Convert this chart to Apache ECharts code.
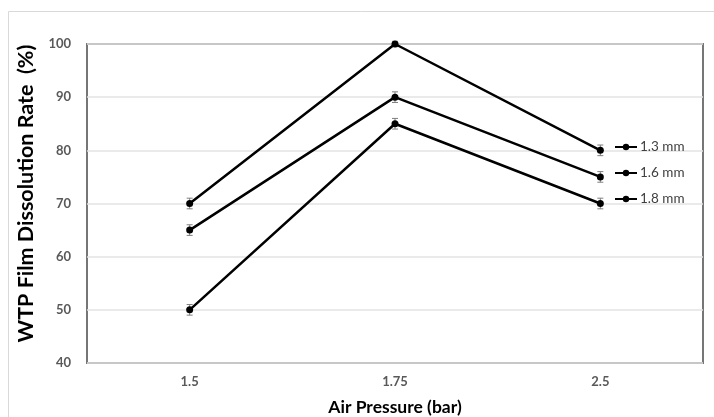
<!DOCTYPE html>
<html>
<head>
<meta charset="utf-8">
<script src="https://cdn.jsdelivr.net/npm/echarts@6/dist/echarts.min.js"></script>
<style>html,body{margin:0;padding:0;background:#fff;}#c{width:714px;height:417px;}</style>
</head>
<body>
<div id="c"></div>
<script>
var categories = ['1.5', '1.75', '2.5'];
var seriesNames = ['1.3 mm', '1.6 mm', '1.8 mm'];
var s13 = [70, 100, 80];
var s16 = [65, 90, 75];
var s18 = [50, 85, 70];
var err13 = [1, 0.5, 1];
var err16 = [1, 1, 1];
var err18 = [1, 1, 1];
var yTicks = [40, 50, 60, 70, 80, 90, 100];

var values = [s13, s16, s18];
var errs = [err13, err16, err18];
var font = 'Lato, "Open Sans", sans-serif';

var chart = echarts.init(document.getElementById('c'));
var series = [];
values.forEach(function (vals, k) {
  var errData = vals.map(function (v, i) { return [i, v - errs[k][i], v + errs[k][i]]; });
  series.push({
    type: 'custom',
    name: seriesNames[k] + ' err',
    z: 1,
    silent: true,
    data: errData,
    renderItem: function (params, api) {
      var x = api.value(0);
      var lo = api.coord([x, api.value(1)]);
      var hi = api.coord([x, api.value(2)]);
      var w = 3;
      var st = { stroke: '#7f7f7f', lineWidth: 1 };
      return { type: 'group', children: [
        { type: 'line', shape: { x1: lo[0], y1: lo[1], x2: hi[0], y2: hi[1] }, style: st },
        { type: 'line', shape: { x1: lo[0] - w, y1: lo[1], x2: lo[0] + w, y2: lo[1] }, style: st },
        { type: 'line', shape: { x1: hi[0] - w, y1: hi[1], x2: hi[0] + w, y2: hi[1] }, style: st }
      ]};
    }
  });
  series.push({
    type: 'line',
    name: seriesNames[k],
    data: vals,
    z: 3,
    symbol: 'circle',
    symbolSize: 7,
    lineStyle: { color: '#000', width: 2.5 },
    itemStyle: { color: '#000' }
  });
});

chart.setOption({
  animation: false,
  graphic: [{
    type: 'polyline',
    shape: { points: [[8.5, 430], [8.5, 11.5], [714, 11.5]] },
    style: { stroke: '#d9d9d9', lineWidth: 1, fill: null }
  }],
  grid: { left: 87, top: 44, right: 11, bottom: 54, show: true, borderColor: '#767676', borderWidth: 2,
    containLabel: false, outerBoundsMode: 'none' },
  legend: {
    data: seriesNames,
    orient: 'vertical',
    left: 609,
    top: 135,
    itemGap: 12,
    itemWidth: 22,
    itemHeight: 8,
    lineStyle: { width: 2 },
    textStyle: { fontFamily: font, fontSize: 13.5, lineHeight: 14, color: '#404040', padding: [0, 0, 0, -2] }
  },
  xAxis: {
    type: 'category',
    data: categories,
    boundaryGap: true,
    axisLine: { show: false },
    axisTick: { show: false },
    axisLabel: { fontFamily: font, fontSize: 13, fontWeight: 'bold', color: '#595959', margin: 12 },
    name: 'Air Pressure (bar)',
    nameLocation: 'middle',
    nameGap: 35,
    nameTextStyle: { fontFamily: font, fontSize: 17.5, fontWeight: 'bold', color: '#000' }
  },
  yAxis: {
    type: 'value',
    min: 40,
    max: 100,
    interval: 10,
    axisLine: { show: false },
    axisTick: { show: false },
    splitLine: { lineStyle: { color: '#e3e3e3', width: 1.5 } },
    axisLabel: { fontFamily: font, fontSize: 13, fontWeight: 'bold', color: '#595959', margin: 16,
      formatter: function (v) { return yTicks.indexOf(v) >= 0 ? String(v) : ''; } },
    name: 'WTP Film Dissolution Rate  (%)',
    nameLocation: 'middle',
    nameGap: 45,
    nameTextStyle: { fontFamily: font, fontSize: 21.5, fontWeight: 'bold', color: '#000', padding: [0, 0, 0, 20] }
  },
  series: series
});
</script>
</body>
</html>
